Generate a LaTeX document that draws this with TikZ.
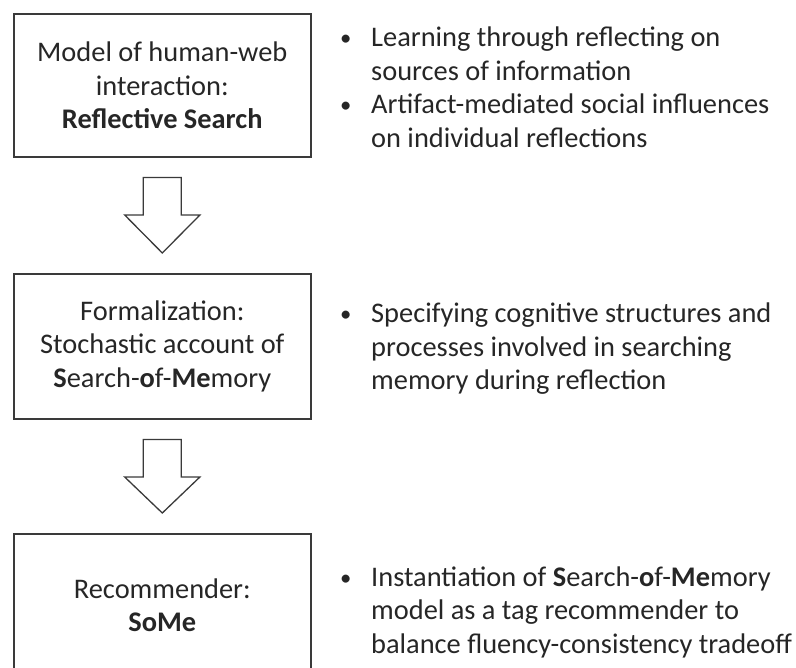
\documentclass[tikz,border=0pt]{standalone}
\usepackage{fontspec}
\setmainfont{Carlito}
\usetikzlibrary{calc}
\definecolor{linegray}{HTML}{3A3A3A}
\definecolor{textgray}{HTML}{262626}
\newcommand{\bul}{\makebox[31pt][l]{\raisebox{1pt}{\scalebox{0.8}{•}}}}
\begin{document}
\begin{tikzpicture}[x=1pt,y=-1pt,
  bigfont/.style={font=\fontsize{28.4}{33.5}\selectfont, text=textgray},
  box/.style={draw=linegray, line width=1.6pt, minimum width=297pt, minimum height=143pt,
    anchor=north west, align=center, bigfont, inner sep=0pt},
  blockarrow/.style={draw=linegray, line width=1.3pt, line join=miter, fill=white},
  bullets/.style={anchor=base west, bigfont, inner sep=0pt}]
\useasboundingbox (0,0) rectangle (796,668);
\clip (0,0) rectangle (796,668);
\node[box] (b1) at (13,13) {Model of human-web\\interaction:\\\textbf{Reflective Search}};
\node[box, minimum height=145pt] (b2) at (13,273) {Formalization:\\Stochastic account of\\\textbf{S}earch-\textbf{o}f-\textbf{Me}mory};
\node[box] (b3) at (13,533) {Recommender:\\\textbf{SoMe}};
% block arrows
\foreach \a/\b in {b1/b2, b2/b3}{
  \draw[blockarrow] ($(\a.south)+(-19,20)$) -- ($(\a.south)+(19,20)$) -- ($(\a.south)+(19,57.5)$)
    -- ($(\a.south)+(37.5,57.5)$) -- ($(\b.north)+(0,-20)$) -- ($(\a.south)+(-37.5,57.5)$)
    -- ($(\a.south)+(-19,57.5)$) -- cycle;
}
\node[bullets] (t1) at (340,47) {\begin{tabular}[t]{@{}l@{}}
\bul Learning through reflecting on\\
\hspace*{31pt}sources of information\\
\bul Artifact-mediated social influences\\
\hspace*{31pt}on individual reflections
\end{tabular}};
\node[bullets] (t2) at (340,323) {\begin{tabular}[t]{@{}l@{}}
\bul Specifying cognitive structures and\\
\hspace*{31pt}processes involved in searching\\
\hspace*{31pt}memory during reflection
\end{tabular}};
\node[bullets] (t3) at (340,586) {\begin{tabular}[t]{@{}l@{}}
\bul Instantiation of \textbf{S}earch-\textbf{o}f-\textbf{Me}mory\\
\hspace*{31pt}model as a tag recommender to\\
\hspace*{31pt}balance fluency-consistency tradeoff
\end{tabular}};
\end{tikzpicture}
\end{document}
